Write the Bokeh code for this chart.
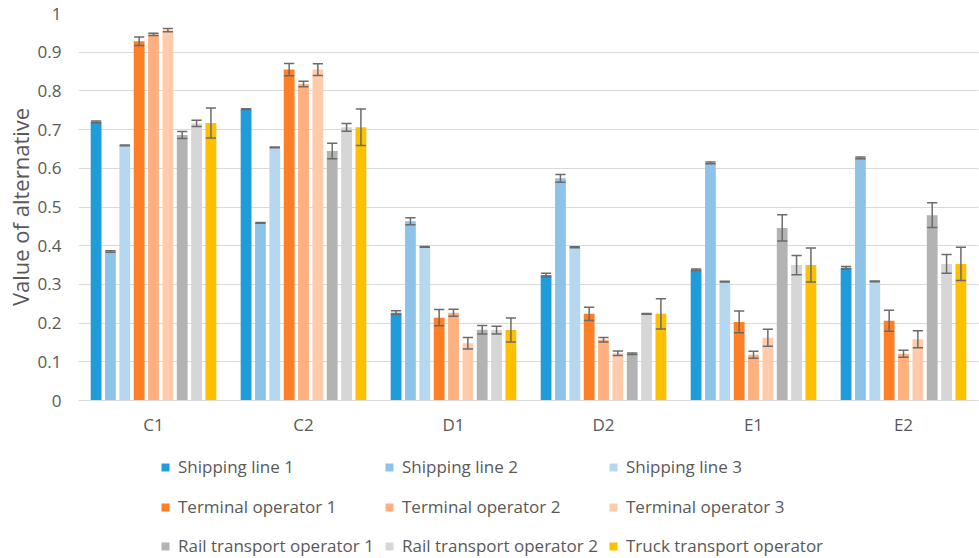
from bokeh.plotting import figure
from bokeh.layouts import column
from bokeh.models import (ColumnDataSource, FactorRange, Legend, LegendItem,
                          FixedTicker, NumeralTickFormatter, Range1d)
from bokeh.transform import dodge
from bokeh.embed import file_html
from bokeh.resources import INLINE

# Criteria on the category axis
criteria = ["C1", "C2", "D1", "D2", "E1", "E2"]

# Mean value of each alternative per criterion, with the error-bar half widths
shipping_line_1 = [0.720, 0.753, 0.227, 0.324, 0.338, 0.343]
shipping_line_1_err = [0.002, 0.001, 0.005, 0.005, 0.002, 0.003]
shipping_line_2 = [0.385, 0.459, 0.463, 0.574, 0.614, 0.627]
shipping_line_2_err = [0.002, 0.001, 0.009, 0.010, 0.002, 0.002]
shipping_line_3 = [0.659, 0.654, 0.397, 0.396, 0.307, 0.308]
shipping_line_3_err = [0.001, 0.001, 0.001, 0.001, 0.001, 0.001]
terminal_operator_1 = [0.928, 0.855, 0.214, 0.224, 0.203, 0.206]
terminal_operator_1_err = [0.011, 0.016, 0.021, 0.017, 0.028, 0.027]
terminal_operator_2 = [0.946, 0.818, 0.227, 0.157, 0.118, 0.121]
terminal_operator_2_err = [0.003, 0.007, 0.009, 0.006, 0.009, 0.009]
terminal_operator_3 = [0.957, 0.855, 0.148, 0.122, 0.162, 0.158]
terminal_operator_3_err = [0.004, 0.015, 0.015, 0.006, 0.022, 0.022]
rail_operator_1 = [0.686, 0.645, 0.183, 0.121, 0.446, 0.479]
rail_operator_1_err = [0.009, 0.020, 0.011, 0.002, 0.034, 0.032]
rail_operator_2 = [0.716, 0.706, 0.182, 0.224, 0.350, 0.353]
rail_operator_2_err = [0.008, 0.010, 0.010, 0.001, 0.025, 0.024]
truck_operator = [0.717, 0.706, 0.182, 0.224, 0.350, 0.353]
truck_operator_err = [0.039, 0.047, 0.031, 0.039, 0.044, 0.043]

series = [
    ("Shipping line 1", shipping_line_1, shipping_line_1_err, "#1E9DDA"),
    ("Shipping line 2", shipping_line_2, shipping_line_2_err, "#8DC3E8"),
    ("Shipping line 3", shipping_line_3, shipping_line_3_err, "#B5D8F0"),
    ("Terminal operator 1", terminal_operator_1, terminal_operator_1_err, "#FF7F27"),
    ("Terminal operator 2", terminal_operator_2, terminal_operator_2_err, "#FFB07E"),
    ("Terminal operator 3", terminal_operator_3, terminal_operator_3_err, "#FFCBAA"),
    ("Rail transport operator 1", rail_operator_1, rail_operator_1_err, "#B3B3B3"),
    ("Rail transport operator 2", rail_operator_2, rail_operator_2_err, "#D6D6D6"),
    ("Truck transport operator", truck_operator, truck_operator_err, "#FFC000"),
]

FONT = "Open Sans"
TEXT = "#595959"
GRID = "#D9D9D9"
ERR = "#6B6B6B"

BAR_W = 0.072
STEP = 0.0957
CAP = 0.034

# main bar chart
p = figure(x_range=FactorRange(factors=criteria), y_range=(0, 1),
           width=979, height=445, output_backend="svg", toolbar_location=None,
           min_border_left=78, min_border_right=1, min_border_top=13,
           min_border_bottom=45)
p.outline_line_color = None
p.background_fill_color = "white"
p.border_fill_color = "white"

for i, (name, vals, errs, color) in enumerate(series):
    off = (i - 4) * STEP
    src = ColumnDataSource(dict(
        cat=criteria, val=vals,
        lo=[v - e for v, e in zip(vals, errs)],
        hi=[v + e for v, e in zip(vals, errs)],
    ))
    p.vbar(x=dodge("cat", off, range=p.x_range), top="val", width=BAR_W,
           source=src, fill_color=color, line_color=None)
    # error bar stem and caps
    p.segment(x0=dodge("cat", off, range=p.x_range), y0="lo",
              x1=dodge("cat", off, range=p.x_range), y1="hi",
              source=src, line_color=ERR, line_width=1.5)
    for end in ("lo", "hi"):
        p.segment(x0=dodge("cat", off - CAP, range=p.x_range), y0=end,
                  x1=dodge("cat", off + CAP, range=p.x_range), y1=end,
                  source=src, line_color=ERR, line_width=1.5)

# axes and grid
p.yaxis.ticker = FixedTicker(ticks=[i / 10 for i in range(11)])
p.yaxis.formatter = NumeralTickFormatter(format="0.[0]")
p.yaxis.axis_line_color = None
p.yaxis.major_tick_line_color = None
p.yaxis.minor_tick_line_color = None
p.yaxis.major_tick_out = 0
p.yaxis.major_tick_in = 0
p.yaxis.minor_tick_out = 0
p.yaxis.major_label_standoff = 17
p.yaxis.major_label_text_font = FONT
p.yaxis.major_label_text_font_size = "17px"
p.yaxis.major_label_text_color = TEXT
p.yaxis.axis_label = "Value of alternative"
p.yaxis.axis_label_text_font = FONT
p.yaxis.axis_label_text_font_size = "22px"
p.yaxis.axis_label_text_font_style = "normal"
p.yaxis.axis_label_text_color = TEXT
p.yaxis.axis_label_standoff = 0

p.xaxis.axis_line_color = GRID
p.xaxis.axis_line_width = 1
p.xaxis.major_tick_line_color = None
p.xaxis.minor_tick_line_color = None
p.xaxis.major_tick_out = 0
p.xaxis.major_tick_in = 0
p.xaxis.minor_tick_out = 0
p.xaxis.major_label_standoff = 12
p.xaxis.major_label_text_font = FONT
p.xaxis.major_label_text_font_size = "17px"
p.xaxis.major_label_text_color = TEXT

p.xgrid.grid_line_color = None
p.ygrid.grid_line_color = GRID
p.ygrid.grid_line_width = 1

# legend strip under the chart (its frame lines up with the chart's frame)
LEG_H = 113
lg = figure(width=979, height=LEG_H, output_backend="svg", toolbar_location=None,
            x_range=Range1d(0, 1), y_range=Range1d(0, 1),
            x_axis_type=None, y_axis_type=None,
            min_border_left=0, min_border_right=0, min_border_top=0,
            min_border_bottom=0)
lg.outline_line_color = None
lg.xgrid.visible = False
lg.ygrid.visible = False

# legend keys: one off-range bar per series, only its swatch is seen
keys = []
for name, vals, errs, color in series:
    key = lg.vbar(x=[-5], top=[-5], width=0.1, fill_color=color, line_color=None)
    keys.append((name, key))

PAD = 8
FRAME_LEFT = 78
row_centres = [22, 62, 101]
for row in range(3):
    items = [LegendItem(label=name, renderers=[r])
             for name, r in keys[row * 3:row * 3 + 3]]
    leg = Legend(items=items, orientation="horizontal",
                 location=(168 - FRAME_LEFT - PAD, LEG_H - row_centres[row] - 11),
                 border_line_color=None, background_fill_alpha=0,
                 label_text_font=FONT, label_text_font_size="17px",
                 label_text_color=TEXT, glyph_width=10, glyph_height=10,
                 label_standoff=8, label_width=196, label_height=20,
                 spacing=10, padding=PAD, margin=0)
    lg.add_layout(leg, "center")

open("out.html", "w").write(file_html(column(p, lg, spacing=0), INLINE))
